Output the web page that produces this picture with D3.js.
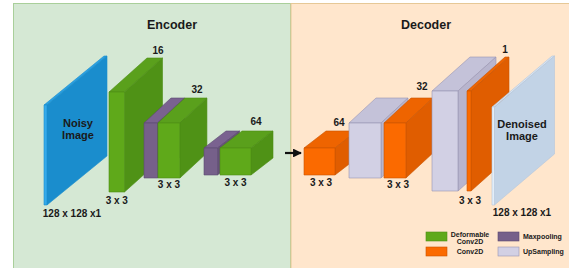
<!DOCTYPE html>
<html>
<head>
<meta charset="utf-8">
<script src="https://cdn.jsdelivr.net/npm/d3@7"></script>
<style>
  body { margin: 0; background: #fff; }
  svg text { font-family: Arial, "Liberation Sans", Helvetica, sans-serif; font-weight: bold; fill: #1a1a1a; }
</style>
</head>
<body>
<svg id="viz"></svg>
<script>
(function () {
  'use strict';

  // layer data
  var encFilters = [16, 32, 64];          // conv filters per encoder stage
  var encRes = [128, 64, 32];             // spatial resolution per stage
  var decFilters = [64, 32, 1];
  var decRes = [32, 64, 128];
  var kernelLabels = ["3 x 3", "3 x 3", "3 x 3"];
  var sizeLabel = "128 x 128 x1";
  var inputLabel = ["Noisy", "Image"];
  var outputLabel = ["Denoised", "Image"];
  var panelTitles = ["Encoder", "Decoder"];
  var legendNames = [["Deformable", "Conv2D"], ["Conv2D"], ["Maxpooling"], ["UpSampling"]];
  var legendKeys = ["deform", "conv", "pool", "up"];

  var svgW = 569, svgH = 268;

  var colors = {
    deform: { front: "#5fa91a", top: "#5aa01c", side: "#4f9216", stroke: "#4d8f16" },
    conv:   { front: "#fb6a00", top: "#ee6400", side: "#e05d00", stroke: "#c95400" },
    pool:   { front: "#76608a", top: "#7a6290", side: "#654f78", stroke: "#5c4a70" },
    up:     { front: "#d2d0e4", top: "#c4c2d9", side: "#b8b5ce", stroke: "#9895b3" },
    input:  { front: "#35aaea", top: "#2aa0e2", side: "#1a8dcd", stroke: "#1a8dcd" },
    output: { front: "#e3eef9", top: "#d6e3f2", side: "#c2d3e6", stroke: "#b3c6dc" }
  };

  // scales: block height & depth from resolution, width from filter count
  var hScale = d3.scaleLinear().domain([32, 64, 128]).range([27, 55, 100]);
  var dyScale = d3.scaleLinear().domain([32, 64, 128]).range([17, 25, 34]);
  var dxScale = d3.scaleLinear().domain([32, 64, 128]).range([22, 27, 38]);
  var wScale = d3.scaleSqrt().domain([0, 64]).range([0, 31]);

  var svg = d3.select("#viz").attr("width", svgW).attr("height", svgH);

  // panels
  svg.append("rect").attr("x", 13.5).attr("y", 3.5).attr("width", 277).attr("height", 270)
    .attr("fill", "#d5e8d4").attr("stroke", "#a9cf9a").attr("stroke-width", 1);
  svg.append("rect").attr("x", 291).attr("y", 3.5).attr("width", 290).attr("height", 270)
    .attr("fill", "#ffe6cc").attr("stroke", "#e6c896").attr("stroke-width", 1);

  svg.selectAll("text.title").data(panelTitles).enter().append("text")
    .attr("class", "title")
    .attr("x", function (d, i) { return i === 0 ? 172 : 426; })
    .attr("y", 29)
    .attr("text-anchor", "middle")
    .style("font-size", "12.5px")
    .text(function (d) { return d; });

  // draw one box: x,y = front top-left, w,h front size, dx,dy depth offset
  function cube(x, y, w, h, dx, dy, c) {
    var g = svg.append("g").attr("stroke", c.stroke).attr("stroke-width", 0.6)
      .attr("stroke-linejoin", "round");
    g.append("polygon").attr("fill", c.top)
      .attr("points", [[x, y], [x + dx, y - dy], [x + w + dx, y - dy], [x + w, y]].join(" "));
    g.append("polygon").attr("fill", c.side)
      .attr("points", [[x + w, y], [x + w + dx, y - dy], [x + w + dx, y + h - dy], [x + w, y + h]].join(" "));
    g.append("rect").attr("fill", c.front)
      .attr("x", x).attr("y", y).attr("width", w).attr("height", h);
    return g;
  }

  function label(x, y, txt, size) {
    svg.append("text").attr("x", x).attr("y", y).attr("text-anchor", "middle")
      .style("font-size", (size || 10) + "px").text(txt);
  }

  function block(x, res, w, c, bottom) {
    var h = hScale(res);
    var y = bottom - h;
    cube(x, y, w, h, dxScale(res), dyScale(res), c);
    return { x: x, y: y, w: w, h: h };
  }

  // ---- encoder ----
  cube(44, 105, 3, 100, 60, 49, colors.input);
  inputLabel.forEach(function (t, i) { label(78, 127 + i * 12, t, 11); });
  label(72, 217, sizeLabel, 10);

  var encX = [[null, 109], [144, 158], [204, 220]];
  var encBottom = [192, 178, 175];
  var encNumPos = [[158, 54], [197, 93], [256, 125]];
  var encKerY = [204, 188, 186];
  encFilters.forEach(function (f, i) {
    var res = encRes[i];
    if (encX[i][0] !== null) {
      block(encX[i][0], res, 13.5, colors.pool, encBottom[i]);
    }
    var b = block(encX[i][1], res, wScale(f), colors.deform, encBottom[i]);
    label(encNumPos[i][0], encNumPos[i][1], f);
    label(b.x + b.w / 2, encKerY[i], kernelLabels[i]);
  });

  // arrow between panels
  svg.append("defs").append("marker").attr("id", "head")
    .attr("viewBox", "0 0 10 10").attr("refX", 9).attr("refY", 5)
    .attr("markerWidth", 4).attr("markerHeight", 4).attr("orient", "auto")
    .append("path").attr("d", "M0,0L10,5L0,10z").attr("fill", "#111");
  svg.append("line").attr("x1", 285).attr("x2", 301).attr("y1", 153).attr("y2", 153)
    .attr("stroke", "#111").attr("stroke-width", 2.2).attr("marker-end", "url(#head)");

  // ---- decoder ----
  var decX = [[null, 304], [349, 384], [432, 467]];
  var upW = [null, 32, 26];
  var decBottom = [175, 178, 191];
  var decNumPos = [[339, 126], [422, 90], [505, 53]];
  var decKerPos = [[321, 186], [398, 188], [470, 204]];
  decFilters.forEach(function (f, i) {
    var res = decRes[i];
    if (decX[i][0] !== null) {
      block(decX[i][0], res, upW[i], colors.up, decBottom[i]);
    }
    block(decX[i][1], res, Math.max(4, wScale(f)), colors.conv, decBottom[i]);
    label(decNumPos[i][0], decNumPos[i][1], f);
    label(decKerPos[i][0], decKerPos[i][1], kernelLabels[i]);
  });

  cube(492, 107, 2.5, 98, 60, 51, colors.output);
  outputLabel.forEach(function (t, i) { label(522, 128 + i * 12, t, 11); });
  label(522, 216, sizeLabel, 10);

  // ---- legend ----
  var legX = [426, 426, 498, 498], legY = [232, 247, 232, 247];
  legendKeys.forEach(function (k, i) {
    svg.append("rect").attr("x", legX[i]).attr("y", legY[i]).attr("width", 21).attr("height", 9)
      .attr("fill", colors[k].front).attr("stroke", colors[k].stroke).attr("stroke-width", 0.6);
    var lines = legendNames[i];
    lines.forEach(function (t, j) {
      var left = i >= 2;
      svg.append("text")
        .attr("x", left ? 523 : 470)
        .attr("y", legY[i] + (lines.length > 1 ? 4.5 + j * 7.5 : 7))
        .attr("text-anchor", left ? "start" : "middle")
        .style("font-size", "7px")
        .text(t);
    });
  });
}());
</script>
</body>
</html>
